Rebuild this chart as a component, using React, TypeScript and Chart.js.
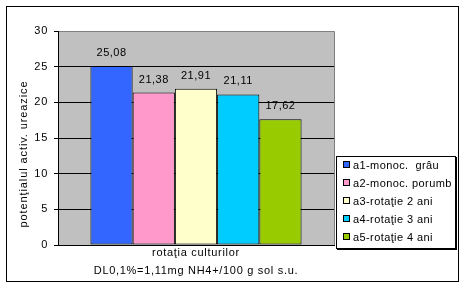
import React, { useEffect, useRef } from "react";
import { Chart, registerables } from "chart.js";

Chart.register(...registerables);

const categories = ["rotaţia culturilor"];
const seriesNames = [
  "a1-monoc.  grâu",
  "a2-monoc. porumb",
  "a3-rotaţie 2 ani",
  "a4-rotaţie 3 ani",
  "a5-rotaţie 4 ani",
];
const seriesValues = [25.08, 21.38, 21.91, 21.11, 17.62];
const seriesColors = ["#3366FF", "#FF99CC", "#FFFFCC", "#00CCFF", "#99CC00"];
const yTicks = [0, 5, 10, 15, 20, 25, 30];
const yTitle = "potenţialul activ. ureazice";
const xTitle = "DL0,1%=1,11mg NH4+/100 g sol s.u.";

const FONT = "'Liberation Sans', Arial, sans-serif";

const decoPlugin = {
  id: "deco",
  beforeDraw(chart: any) {
    const { ctx, chartArea: a } = chart;
    ctx.save();
    ctx.fillStyle = "#FFFFFF";
    ctx.fillRect(0, 0, chart.width, chart.height);
    ctx.fillStyle = "#C0C0C0";
    ctx.fillRect(a.left, a.top, a.right - a.left, a.bottom - a.top);
    ctx.strokeStyle = "#808080";
    ctx.lineWidth = 1;
    ctx.beginPath();
    const r = Math.round(a.right) + 0.5;
    const t = Math.round(a.top) + 0.5;
    ctx.moveTo(a.left, t);
    ctx.lineTo(r, t);
    ctx.lineTo(r, a.bottom);
    ctx.stroke();
    ctx.restore();
    ctx.letterSpacing = "0.7px";
  },
  afterDatasetsDraw(chart: any) {
    const { ctx } = chart;
    ctx.save();
    ctx.font = `11px ${FONT}`;
    ctx.fillStyle = "#000";
    ctx.textAlign = "center";
    ctx.textBaseline = "middle";
    ctx.letterSpacing = "0.5px";
    chart.data.datasets.forEach((ds: any, i: number) => {
      const meta = chart.getDatasetMeta(i);
      const bar = meta.data[0];
      if (!bar) return;
      const v = ds.data[0] as number;
      ctx.fillText(v.toFixed(2).replace(".", ","), bar.x, bar.y - 13);
    });
    ctx.restore();
  },
  afterDraw(chart: any) {
    const { ctx, chartArea: a } = chart;
    ctx.save();
    // y-axis title
    ctx.font = `11px ${FONT}`;
    ctx.fillStyle = "#000";
    ctx.letterSpacing = "0.9px";
    ctx.textAlign = "center";
    ctx.textBaseline = "middle";
    ctx.translate(24, (a.top + a.bottom) / 2 + 16);
    ctx.rotate(-Math.PI / 2);
    ctx.fillText(yTitle, 0, 0);
    ctx.restore();

    // legend
    ctx.save();
    const lx = Math.round(a.right) + 2;
    const ly = 156;
    const lw = 119;
    const lh = 92;
    ctx.fillStyle = "#000";
    ctx.fillRect(lx + 1, ly + 1, lw + 1, lh + 1);
    ctx.fillStyle = "#FFF";
    ctx.fillRect(lx, ly, lw, lh);
    ctx.strokeStyle = "#000";
    ctx.lineWidth = 1;
    ctx.strokeRect(lx + 0.5, ly + 0.5, lw, lh);
    ctx.font = `11px ${FONT}`;
    ctx.letterSpacing = "0.4px";
    ctx.textAlign = "left";
    ctx.textBaseline = "middle";
    seriesNames.forEach((name, i) => {
      const cy = ly + 9 + i * 18;
      ctx.fillStyle = seriesColors[i];
      ctx.fillRect(lx + 7, cy - 3, 6, 6);
      ctx.strokeStyle = "#000";
      ctx.strokeRect(lx + 7.5, cy - 3.5, 6, 6);
      ctx.fillStyle = "#000";
      ctx.fillText(name, lx + 17, cy + 0.5);
    });
    ctx.restore();

    // outer frame
    ctx.save();
    ctx.strokeStyle = "#000";
    ctx.lineWidth = 1;
    ctx.strokeRect(6.5, 6.5, 452, 275);
    ctx.restore();
  },
};

export default function App() {
  const ref = useRef<HTMLCanvasElement>(null);
  useEffect(() => {
    document.body.style.margin = "0";
    const canvas = ref.current;
    if (!canvas) return;
    const chart = new Chart(canvas, {
      type: "bar",
      data: {
        labels: categories,
        datasets: seriesNames.map((name, i) => ({
          label: name,
          data: [seriesValues[i]],
          backgroundColor: seriesColors[i],
          borderColor: "#000000",
          borderWidth: 1,
          borderSkipped: false,
          categoryPercentage: 0.765,
          barPercentage: 1,
        })),
      },
      options: {
        responsive: false,
        animation: false,
        devicePixelRatio: 1,
        layout: { padding: { top: 31, right: 132, left: 0, bottom: 0 } },
        plugins: {
          legend: { display: false },
          tooltip: { enabled: false },
        },
        scales: {
          x: {
            grid: { display: false, drawTicks: false },
            border: { display: true, color: "#000", width: 1 },
            ticks: {
              color: "#000",
              font: { family: FONT, size: 11 },
              padding: 1,
            },
            title: {
              display: true,
              text: xTitle,
              color: "#000",
              font: { family: FONT, size: 11 },
              padding: { top: 0, bottom: 10 },
            },
            afterFit(scale: any) {
              scale.height = 43;
            },
          },
          y: {
            min: 0,
            max: 30,
            afterBuildTicks(scale: any) {
              scale.ticks = yTicks.map((v) => ({ value: v }));
            },
            grid: {
              color: (c: any) => (c.tick && c.tick.value === 30 ? "#808080" : "#000000"),
              tickColor: "#000",
              tickLength: 4,
              lineWidth: 1,
            },
            border: { display: true, color: "#000", width: 1 },
            ticks: {
              color: "#000",
              font: { family: FONT, size: 11 },
              padding: 6,
            },
            afterFit(scale: any) {
              scale.width = 58;
            },
          },
        },
      },
      plugins: [decoPlugin],
    });
    return () => chart.destroy();
  }, []);
  return (
    <div style={{ width: 466, height: 288 }}>
      <canvas ref={ref} width={466} height={288} style={{ display: "block" }} />
    </div>
  );
}
